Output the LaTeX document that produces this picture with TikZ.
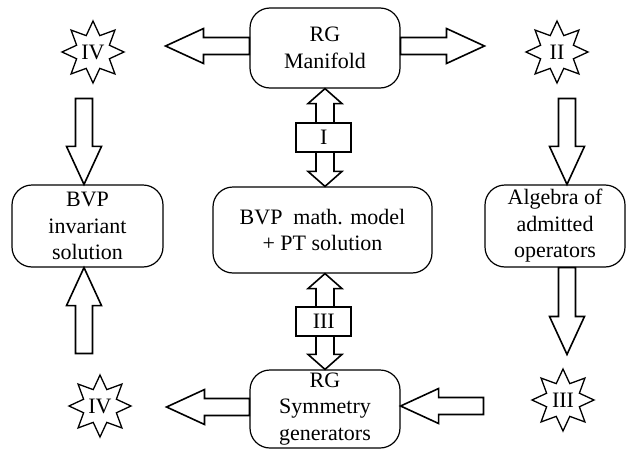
\documentclass[tikz,border=0pt]{standalone}
\usepackage{fontspec}
\setmainfont{LiberationSerif}[Extension=.ttf,UprightFont=*-Regular,BoldFont=*-Bold,ItalicFont=*-Italic,BoldItalicFont=*-BoldItalic]
\usetikzlibrary{calc,shapes.geometric}

\begin{document}
\begin{tikzpicture}[x=1pt,y=1pt,
    font=\rmfamily\fontsize{22}{26.5}\selectfont,
    block/.style={draw,line width=1.2pt,rounded corners=20pt,align=center,inner sep=0pt,fill=white},
    burst/.style={draw,line width=1.3pt,star,star points=8,star point ratio=1.75,minimum size=62pt,inner sep=0pt},
    hfat/.style={line width=1.6pt,line join=miter,to path={let \p1=(\tikztostart),\p2=(\tikztotarget),
      \n1={38*(\x2-\x1)/abs(\x2-\x1)} in
      (\x1,{\y1+8.5}) -- ({\x2-(\n1)},{\y1+8.5}) -- ({\x2-(\n1)},{\y1+17.5}) -- (\x2,\y1)
      -- ({\x2-(\n1)},{\y1-17.5}) -- ({\x2-(\n1)},{\y1-8.5}) -- (\x1,{\y1-8.5}) -- cycle}},
    vfat/.style={line width=1.6pt,line join=miter,to path={let \p1=(\tikztostart),\p2=(\tikztotarget),
      \n1={38*(\y2-\y1)/abs(\y2-\y1)} in
      ({\x1+8.5},\y1) -- ({\x1+8.5},{\y2-(\n1)}) -- ({\x1+17.5},{\y2-(\n1)}) -- (\x1,\y2)
      -- ({\x1-17.5},{\y2-(\n1)}) -- ({\x1-8.5},{\y2-(\n1)}) -- ({\x1-8.5},\y1) -- cycle}},
    dfat/.style={line width=1.6pt,line join=miter,to path={let \p1=(\tikztostart),\p2=(\tikztotarget),
      \n1={15*(\y2-\y1)/abs(\y2-\y1)} in
      (\x1,\y1) -- ({\x1+17},{\y1+(\n1)}) -- ({\x1+9},{\y1+(\n1)}) -- ({\x1+9},{\y2-(\n1)})
      -- ({\x1+17},{\y2-(\n1)}) -- (\x1,\y2) -- ({\x1-17},{\y2-(\n1)}) -- ({\x1-9},{\y2-(\n1)})
      -- ({\x1-9},{\y1+(\n1)}) -- ({\x1-17},{\y1+(\n1)}) -- cycle}},
    lab/.style={draw,line width=1.6pt,fill=white,minimum width=55pt,minimum height=29pt,inner sep=0pt}]
  \useasboundingbox (0,0) rectangle (627,-450);

  \node[block,minimum width=150pt,minimum height=80pt] (rgman) at (325,-48) {RG\\Manifold};
  \node[block,minimum width=219pt,minimum height=86pt] (bvp) at (322.5,-230) {BVP\ \ math. model\\+ PT solution};
  \node[block,minimum width=151pt,minimum height=82pt] (inv) at (87.5,-226) {BVP\\invariant\\solution};
  \node[block,minimum width=140pt,minimum height=82pt] (alg) at (555,-226) {Algebra of\\admitted\\operators};
  \node[block,minimum width=150pt,minimum height=78pt] (rgsym) at (325,-409) {RG\\Symmetry\\generators};

  \node[burst] (starIVa) at (93,-52) {IV};
  \node[burst] (starII) at (557,-52) {II};
  \node[burst] (starIVb) at (100,-406) {IV};
  \node[burst] (starIII) at (563,-400) {III};

  \draw[hfat] ([yshift=2pt]rgman.west) to ([xshift=40pt]starIVa.east);
  \draw[hfat] ([yshift=2pt]rgman.east) to ([xshift=-40pt]starII.west);
  \draw[vfat] ([xshift=-9pt,yshift=-14pt]starIVa.south) to (inv.north);
  \draw[vfat] ([xshift=-16pt,yshift=20pt]starIVb.north) to (inv.south);
  \draw[vfat] ([xshift=10pt,yshift=-14pt]starII.south) to (alg.north);
  \draw[vfat] ([xshift=12pt]alg.south) to ([yshift=13pt]starIII.north);
  \draw[hfat] ([yshift=2pt]rgsym.west) to ([xshift=34pt]starIVb.east);
  \draw[hfat] ([xshift=-47pt,yshift=-6pt]starIII.west) to (rgsym.east);

  \draw[dfat] (rgman.south) to (bvp.north);
  \node[lab] (lblI) at ($(rgman.south)!0.5!(bvp.north)$) {I};
  \draw[dfat] ([xshift=2.5pt]bvp.south) to (rgsym.north);
  \node[lab] (lblIII) at ($(bvp.south)!0.5!(rgsym.north)$) {III};
\end{tikzpicture}
\end{document}
